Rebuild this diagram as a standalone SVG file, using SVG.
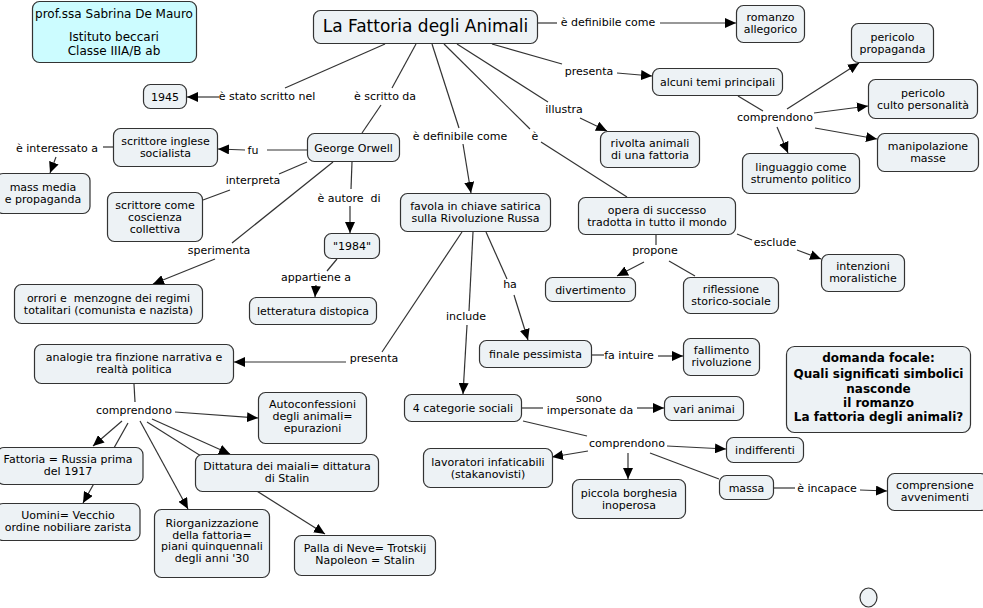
<svg xmlns="http://www.w3.org/2000/svg" width="983" height="608" viewBox="0 0 983 608">
<style>
.n rect, .n ellipse{fill:#edf2f5;stroke:#333;stroke-width:1.2}
.n text{font-family:"DejaVu Sans","Verdana",sans-serif;font-size:11px;fill:#000;text-anchor:middle}
.lbl text{font-family:"DejaVu Sans","Verdana",sans-serif;font-size:11px;fill:#000;text-anchor:middle}
.c path{stroke:#333;stroke-width:1.2;fill:none}
.c path.a{marker-end:url(#ah)}
</style>
<defs>
<marker id="ah" viewBox="0 0 11 10" refX="11" refY="5" markerWidth="11" markerHeight="10" markerUnits="userSpaceOnUse" orient="auto">
<path d="M0,0 L11,5 L0,10 z" fill="#000"/>
</marker>
</defs>
<rect width="983" height="608" fill="#fff"/>
<g class="c" id="connectors">
<path d="M538,23 L557,23"/>
<path class="a" d="M660,23 L736,23"/>
<path d="M492,44 L562,64"/>
<path class="a" d="M617,73 L652,76"/>
<path d="M457,44 L548,102"/>
<path class="a" d="M580,118 L607,131"/>
<path d="M444,44 L530,129"/>
<path d="M541,142 L627,197"/>
<path d="M432,44 L459,128"/>
<path class="a" d="M463,144 L471,193"/>
<path d="M416,44 L392,88"/>
<path d="M381,105 L362,133"/>
<path d="M385,44 L285,88"/>
<path class="a" d="M219,97 L187,97"/>
<path d="M307,150 L267,150"/>
<path class="a" d="M245,150 L218,149"/>
<path d="M113,147 L103,147"/>
<path class="a" d="M56,157 L50,173"/>
<path d="M307,162 L279,174"/>
<path d="M230,190 L203,200"/>
<path d="M333,162 L232,243"/>
<path class="a" d="M215,259 L153,284"/>
<path d="M352,162 L351,189"/>
<path class="a" d="M350,206 L350,233"/>
<path d="M337,259 L327,271"/>
<path class="a" d="M316,285 L315,297"/>
<path d="M462,232 L382,352"/>
<path class="a" d="M346,362 L234,362"/>
<path d="M473,232 L469,311"/>
<path class="a" d="M467,325 L463,394"/>
<path d="M486,232 L507,279"/>
<path class="a" d="M514,295 L528,340"/>
<path d="M656,235 L656,245"/>
<path class="a" d="M644,262 L617,276"/>
<path d="M669,261 L695,276"/>
<path d="M737,234 L752,240"/>
<path class="a" d="M797,250 L821,259"/>
<path d="M738,96 L763,111"/>
<path class="a" d="M787,109 L859,63"/>
<path class="a" d="M814,113 L868,106"/>
<path class="a" d="M815,128 L877,139"/>
<path class="a" d="M777,127 L788,153"/>
<path d="M592,355 L604,355"/>
<path class="a" d="M658,356 L683,356"/>
<path d="M522,408 L543,408"/>
<path class="a" d="M637,408 L664,408"/>
<path d="M523,421 L587,436"/>
<path class="a" d="M588,451 L552,457"/>
<path class="a" d="M628,453 L628,479"/>
<path class="a" d="M667,446 L726,449"/>
<path d="M650,453 L719,479"/>
<path d="M774,488 L795,488"/>
<path class="a" d="M860,490 L887,491"/>
<path d="M134,384 L135,402"/>
<path class="a" d="M175,412 L258,418"/>
<path class="a" d="M122,421 L93,446"/>
<path class="a" d="M128,423 L83,503"/>
<path class="a" d="M140,421 L188,509"/>
<path class="a" d="M152,419 L230,454"/>
<path class="a" d="M147,422 L325,534"/>
</g>
<g class="lbl" id="link-labels">
<text x="608" y="26">è definibile come</text>
<text x="589" y="75">presenta</text>
<text x="564" y="113">illustra</text>
<text x="535" y="140">è</text>
<text x="460" y="140">è definibile come</text>
<text x="385" y="100">è scritto da</text>
<text x="267" y="100">è stato scritto nel</text>
<text x="253" y="154">fu</text>
<text x="57" y="152">è interessato a</text>
<text x="253" y="184">interpreta</text>
<text x="219" y="254">sperimenta</text>
<text x="349" y="202" xml:space="preserve">è autore  di</text>
<text x="316" y="281">appartiene a</text>
<text x="775" y="121">comprendono</text>
<text x="655" y="254">propone</text>
<text x="775" y="246">esclude</text>
<text x="510" y="288">ha</text>
<text x="466" y="320">include</text>
<text x="374" y="362">presenta</text>
<text x="629" y="359">fa intuire</text>
<text x="589" y="402">sono</text>
<text x="590" y="414">impersonate da</text>
<text x="627" y="447">comprendono</text>
<text x="827" y="492">è incapace</text>
<text x="134" y="414">comprendono</text>
</g>
<g class="n" id="n-prof"><rect x="32.5" y="1.5" width="164" height="61" rx="7" style="fill:#ccfcff"/><text x="114" y="18" style="font-size:12px">prof.ssa Sabrina De Mauro</text><text x="114" y="41" style="font-size:12px">Istituto beccari</text><text x="114" y="55" style="font-size:12px">Classe IIIA/B ab</text></g>
<g class="n" id="n-title"><rect x="313.5" y="10.5" width="224" height="33" rx="7"/><text x="425.5" y="32" style="font-size:17px">La Fattoria degli Animali</text></g>
<g class="n" id="n-romanzo"><rect x="736.5" y="5.5" width="68" height="37" rx="7"/><text x="770.5" y="21">romanzo</text><text x="770.5" y="33">allegorico</text></g>
<g class="n" id="n-propaganda"><rect x="851.5" y="23.5" width="82" height="39" rx="7"/><text x="892.5" y="41">pericolo</text><text x="892.5" y="53">propaganda</text></g>
<g class="n" id="n-temi"><rect x="652.5" y="68.5" width="130" height="27" rx="7"/><text x="717.5" y="86">alcuni temi principali</text></g>
<g class="n" id="n-culto"><rect x="868.5" y="79.5" width="109" height="39" rx="7"/><text x="923" y="97">pericolo</text><text x="923" y="109">culto personalità</text></g>
<g class="n" id="n-manip"><rect x="877.5" y="133.5" width="101" height="38" rx="7"/><text x="928" y="150">manipolazione</text><text x="928" y="162">masse</text></g>
<g class="n" id="n-linguaggio"><rect x="742.5" y="153.5" width="117" height="40" rx="7"/><text x="801" y="171">linguaggio come</text><text x="801" y="183">strumento politico</text></g>
<g class="n" id="n-rivolta"><rect x="600.5" y="131.5" width="99" height="36" rx="7"/><text x="650" y="147">rivolta animali</text><text x="650" y="159">di una fattoria</text></g>
<g class="n" id="n-1945"><rect x="143.5" y="84.5" width="43" height="24" rx="7"/><text x="165" y="100.5">1945</text></g>
<g class="n" id="n-inglese"><rect x="113.5" y="128.5" width="104" height="38" rx="7"/><text x="165.5" y="145">scrittore inglese</text><text x="165.5" y="157">socialista</text></g>
<g class="n" id="n-orwell"><rect x="307.5" y="133.5" width="92" height="28" rx="7"/><text x="353.5" y="151.5">George Orwell</text></g>
<g class="n" id="n-massmedia"><rect x="-4" y="173.5" width="94" height="40" rx="7"/><text x="43" y="191">mass media</text><text x="43" y="203">e propaganda</text></g>
<g class="n" id="n-coscienza"><rect x="107.5" y="192.5" width="95" height="49" rx="7"/><text x="155" y="209">scrittore come</text><text x="155" y="221">coscienza</text><text x="155" y="233">collettiva</text></g>
<g class="n" id="n-1984"><rect x="324.5" y="233.5" width="55" height="25" rx="7"/><text x="352" y="250">"1984"</text></g>
<g class="n" id="n-orrori"><rect x="14.5" y="284.5" width="188" height="39" rx="7"/><text x="108.5" y="302" xml:space="preserve">orrori e  menzogne dei regimi</text><text x="108.5" y="314">totalitari (comunista e nazista)</text></g>
<g class="n" id="n-distopica"><rect x="249.5" y="297.5" width="127" height="27" rx="7"/><text x="313" y="315">letteratura distopica</text></g>
<g class="n" id="n-favola"><rect x="400.5" y="193.5" width="150" height="38" rx="7"/><text x="475.5" y="210">favola in chiave satirica</text><text x="475.5" y="222">sulla Rivoluzione Russa</text></g>
<g class="n" id="n-opera"><rect x="578.5" y="197.5" width="157" height="37" rx="7"/><text x="657" y="214">opera di successo</text><text x="657" y="226">tradotta in tutto il mondo</text></g>
<g class="n" id="n-divertimento"><rect x="545.5" y="277.5" width="90" height="24" rx="7"/><text x="590.5" y="293.5">divertimento</text></g>
<g class="n" id="n-riflessione"><rect x="683.5" y="277.5" width="95" height="36" rx="7"/><text x="731" y="293">riflessione</text><text x="731" y="305">storico-sociale</text></g>
<g class="n" id="n-intenzioni"><rect x="821.5" y="254.5" width="83" height="37" rx="7"/><text x="863" y="270">intenzioni</text><text x="863" y="282">moralistiche</text></g>
<g class="n" id="n-domanda"><rect x="786.5" y="346.5" width="184" height="86" rx="8"/><g style="font-weight:bold"><text x="878.5" y="362" style="font-size:12px;font-weight:bold">domanda focale:</text><text x="878.5" y="378" style="font-size:12px;font-weight:bold">Quali significati simbolici</text><text x="878.5" y="393" style="font-size:12px;font-weight:bold">nasconde</text><text x="878.5" y="407" style="font-size:12px;font-weight:bold">il romanzo</text><text x="878.5" y="421" style="font-size:12px;font-weight:bold">La fattoria degli animali?</text></g></g>
<g class="n" id="n-fallimento"><rect x="683.5" y="338.5" width="76" height="37" rx="7"/><text x="721.5" y="354">fallimento</text><text x="721.5" y="366">rivoluzione</text></g>
<g class="n" id="n-finale"><rect x="479.5" y="340.5" width="112" height="27" rx="7"/><text x="535.5" y="358">finale pessimista</text></g>
<g class="n" id="n-categorie"><rect x="404.5" y="394.5" width="117" height="27" rx="7"/><text x="463" y="412">4 categorie sociali</text></g>
<g class="n" id="n-vari"><rect x="664.5" y="396.5" width="79" height="24" rx="7"/><text x="704" y="412.5">vari animai</text></g>
<g class="n" id="n-indifferenti"><rect x="726.5" y="437.5" width="77" height="25" rx="7"/><text x="765" y="454">indifferenti</text></g>
<g class="n" id="n-lavoratori"><rect x="423.5" y="448.5" width="129" height="39" rx="7"/><text x="488" y="466">lavoratori infaticabili</text><text x="488" y="478">(stakanovisti)</text></g>
<g class="n" id="n-piccola"><rect x="572.5" y="479.5" width="113" height="39" rx="7"/><text x="629" y="497">piccola borghesia</text><text x="629" y="509">inoperosa</text></g>
<g class="n" id="n-massa"><rect x="719.5" y="475.5" width="54" height="24" rx="7"/><text x="746.5" y="491.5">massa</text></g>
<g class="n" id="n-comprensione"><rect x="887.5" y="473.5" width="100" height="37" rx="7"/><text x="935" y="489">comprensione</text><text x="935" y="501">avvenimenti</text></g>
<g class="n" id="n-empty"><ellipse cx="868.5" cy="597.5" rx="8.5" ry="9.5"/></g>
<g class="n" id="n-analogie"><rect x="34.5" y="344.5" width="199" height="39" rx="7"/><text x="134" y="361">analogie tra finzione narrativa e</text><text x="134" y="373">realtà politica</text></g>
<g class="n" id="n-autoconf"><rect x="258.5" y="392.5" width="108" height="51" rx="7"/><text x="312.5" y="408">Autoconfessioni</text><text x="312.5" y="420">degli animali=</text><text x="312.5" y="432">epurazioni</text></g>
<g class="n" id="n-russia"><rect x="-3" y="447.5" width="146" height="37" rx="7"/><text x="68" y="463">Fattoria = Russia prima</text><text x="68" y="475">del 1917</text></g>
<g class="n" id="n-dittatura"><rect x="195.5" y="454.5" width="183" height="37" rx="7"/><text x="287" y="470">Dittatura dei maiali= dittatura</text><text x="287" y="482">di Stalin</text></g>
<g class="n" id="n-uomini"><rect x="-4" y="503.5" width="144" height="37" rx="7"/><text x="68" y="519">Uomini= Vecchio</text><text x="68" y="531">ordine nobiliare zarista</text></g>
<g class="n" id="n-riorg"><rect x="154.5" y="509.5" width="115" height="68" rx="7"/><text x="212" y="527">Riorganizzazione</text><text x="212" y="538.5">della fattoria=</text><text x="212" y="550">piani quinquennali</text><text x="212" y="561.5">degli anni '30</text></g>
<g class="n" id="n-palla"><rect x="294.5" y="535.5" width="141" height="40" rx="7"/><text x="365" y="552">Palla di Neve= Trotskij</text><text x="365" y="564">Napoleon = Stalin</text></g>
</svg>
